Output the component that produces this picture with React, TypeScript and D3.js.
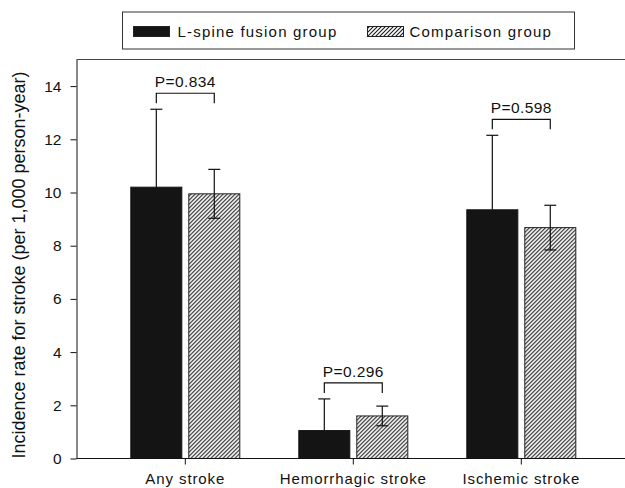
import React, { useRef, useEffect } from 'react';
import * as d3 from 'd3';

// values
const categories = ['Any stroke', 'Hemorrhagic stroke', 'Ischemic stroke'];
const groups = ['L-spine fusion group', 'Comparison group'];
const fusionRate = [10.2, 1.05, 9.35];
const fusionErr = [2.93, 1.19, 2.8];
const comparisonRate = [9.95, 1.6, 8.68];
const comparisonErr = [0.92, 0.37, 0.84];
const pValues = ['P=0.834', 'P=0.296', 'P=0.598'];
const yTicks = [0, 2, 4, 6, 8, 10, 12, 14];

const font = '"Liberation Sans", Arial, sans-serif';

function StrokeChart() {
  const svgRef = useRef<SVGSVGElement>(null);

  useEffect(() => {
    const svg = d3.select(svgRef.current);
    svg.selectAll('*').remove();

    const width = 625;
    const height = 488;
    const margin = { top: 59.5, right: 0, bottom: 29, left: 76.5 };

    const defs = svg.append('defs');
    const pat = defs.append('pattern')
      .attr('id', 'hatch')
      .attr('patternUnits', 'userSpaceOnUse')
      .attr('width', 4)
      .attr('height', 4);
    pat.append('rect').attr('width', 4).attr('height', 4).attr('fill', '#fff');
    pat.append('path')
      .attr('d', 'M-1,1 l2,-2 M0,4 l4,-4 M3,5 l2,-2')
      .attr('stroke', '#1a1a1a')
      .attr('stroke-width', 1.1);

    const y = d3.scaleLinear()
      .domain([0, 15])
      .range([height - margin.bottom - 0.5, margin.top]);

    const x = d3.scaleBand()
      .domain(categories)
      .range([101.3, 605.3]);

    const xSub = d3.scaleBand()
      .domain(groups)
      .range([-54.5, 54.5])
      .paddingInner(0.12);

    const data = categories.map((c, i) => ({
      cat: c,
      values: [
        { g: groups[0], v: fusionRate[i], e: fusionErr[i], lower: false },
        { g: groups[1], v: comparisonRate[i], e: comparisonErr[i], lower: true },
      ],
      p: pValues[i],
    }));

    // top frame line
    svg.append('line')
      .attr('x1', margin.left).attr('x2', width)
      .attr('y1', margin.top).attr('y2', margin.top)
      .attr('stroke', '#444').attr('stroke-width', 1);

    // bars
    const cat = svg.selectAll('g.cat')
      .data(data)
      .join('g')
      .attr('class', 'cat')
      .attr('transform', d => `translate(${x(d.cat)! + x.bandwidth() / 2},0)`);

    cat.selectAll('rect')
      .data(d => d.values)
      .join('rect')
      .attr('x', d => xSub(d.g)!)
      .attr('y', d => y(d.v))
      .attr('width', xSub.bandwidth())
      .attr('height', d => y(0) - y(d.v))
      .attr('fill', (d, i) => (i === 0 ? '#141414' : 'url(#hatch)'))
      .attr('stroke', (d, i) => (i === 0 ? '#141414' : '#222'))
      .attr('stroke-width', 1);

    // error bars (the solid bars hide their lower half)
    const cap = 6;
    const err = cat.selectAll('g.err')
      .data(d => d.values)
      .join('g')
      .attr('class', 'err')
      .attr('stroke', '#111')
      .attr('stroke-width', 1.2);
    const cx = d => xSub(d.g)! + xSub.bandwidth() / 2;
    err.append('line')
      .attr('x1', cx).attr('x2', cx)
      .attr('y1', d => (d.lower ? y(d.v - d.e) : y(d.v))).attr('y2', d => y(d.v + d.e));
    err.append('line')
      .attr('x1', d => cx(d) - cap).attr('x2', d => cx(d) + cap)
      .attr('y1', d => y(d.v + d.e)).attr('y2', d => y(d.v + d.e));
    err.filter(d => d.lower).append('line')
      .attr('x1', d => cx(d) - cap).attr('x2', d => cx(d) + cap)
      .attr('y1', d => y(d.v - d.e)).attr('y2', d => y(d.v - d.e));

    // significance brackets
    const bracket = cat.append('g')
      .attr('stroke', '#111')
      .attr('fill', 'none')
      .attr('stroke-width', 1.2);
    const legBottom = d => y(d3.max(d.values, v => v.v + v.e)!) - 6;
    bracket.append('path')
      .attr('d', d => {
        const x0 = cx(d.values[0]);
        const x1 = cx(d.values[1]);
        const b = legBottom(d);
        return `M${x0},${b} V${b - 10} H${x1} V${b}`;
      });
    cat.append('text')
      .attr('x', 0)
      .attr('y', d => legBottom(d) - 16)
      .attr('text-anchor', 'middle')
      .style('font-family', font)
      .style('font-size', '15.5px')
      .style('letter-spacing', '0.4px')
      .attr('fill', '#111')
      .text(d => d.p);

    // y axis
    const yAxis = d3.axisLeft(y).tickValues(yTicks).tickSize(6).tickPadding(9).tickSizeOuter(0);
    const gy = svg.append('g')
      .attr('transform', `translate(${margin.left},0)`)
      .call(yAxis);
    gy.selectAll('text')
      .style('font-family', font)
      .style('font-size', '15.5px')
      .attr('fill', '#111');
    gy.selectAll('line, path').attr('stroke', '#111');

    // x axis
    const gx = svg.append('g')
      .attr('transform', `translate(0,${y(0)})`);
    gx.append('line')
      .attr('x1', margin.left).attr('x2', width)
      .attr('stroke', '#111').attr('stroke-width', 1);
    const xt = gx.selectAll('g.tick')
      .data(categories)
      .join('g')
      .attr('transform', d => `translate(${x(d)! + x.bandwidth() / 2},0)`);
    xt.append('line').attr('y2', 6).attr('stroke', '#111');
    xt.append('text')
      .attr('y', 25)
      .attr('text-anchor', 'middle')
      .style('font-family', font)
      .style('font-size', '15px')
      .style('letter-spacing', '0.9px')
      .attr('fill', '#111')
      .text(d => d);

    // y label
    svg.append('text')
      .attr('transform', `translate(25,265) rotate(-90)`)
      .attr('text-anchor', 'middle')
      .style('font-family', font)
      .style('font-size', '18px')
      .attr('fill', '#111')
      .text('Incidence rate for stroke (per 1,000 person-year)');

    // legend
    const legend = svg.append('g');
    legend.append('rect')
      .attr('x', 122.5).attr('y', 12)
      .attr('width', 452).attr('height', 37)
      .attr('fill', '#fff')
      .attr('stroke', '#333');
    const items = [
      { g: groups[0], sx: 133.5, tx: 177.5, fill: '#141414' },
      { g: groups[1], sx: 367.5, tx: 409.5, fill: 'url(#hatch)' },
    ];
    items.forEach(it => {
      legend.append('rect')
        .attr('x', it.sx).attr('y', 26.5)
        .attr('width', 36).attr('height', 10)
        .attr('fill', it.fill)
        .attr('stroke', '#222');
      legend.append('text')
        .attr('x', it.tx).attr('y', 37)
        .style('font-family', font)
        .style('font-size', '15px')
        .style('letter-spacing', '1.2px')
        .attr('fill', '#111')
        .text(it.g);
    });
  }, []);

  return (
    <svg
      ref={svgRef}
      width={625}
      height={488}
      style={{ position: 'absolute', left: 0, top: 0, background: '#fff' }}
    />
  );
}

export default function App() {
  return <StrokeChart />;
}
